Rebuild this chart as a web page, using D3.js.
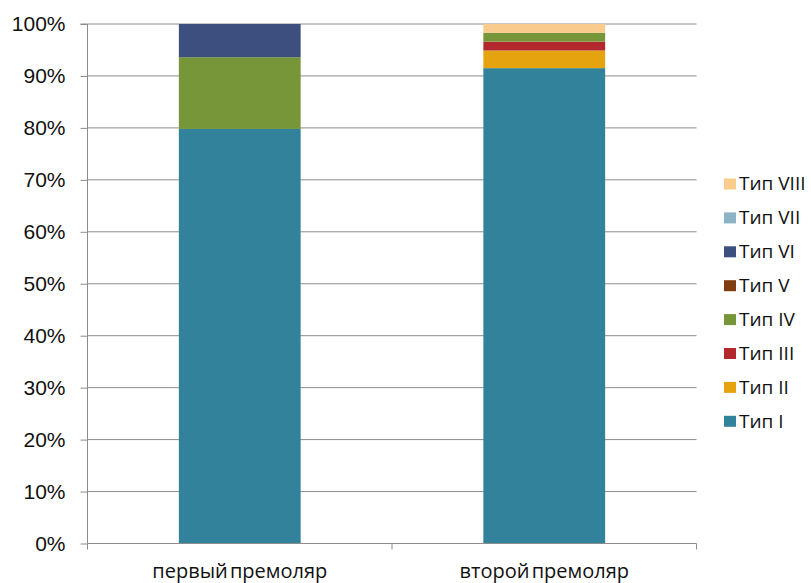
<!DOCTYPE html>
<html><head><meta charset="utf-8">
<script src="https://cdn.jsdelivr.net/npm/d3@7"></script>
<style>body{margin:0;background:#fff}svg{display:block}</style>
</head><body><svg id="c" width="811" height="583"></svg>
<script>
const categories = ["первый премоляр", "второй премоляр"];
const seriesNames = ["Тип I","Тип II","Тип III","Тип IV","Тип V","Тип VI","Тип VII","Тип VIII"];
// percent values per series, [first, second]
const tip1 = [79.8, 91.5];
const tip2 = [0, 3.4];
const tip3 = [0, 1.7];
const tip4 = [13.8, 1.7];
const tip5 = [0, 0];
const tip6 = [6.4, 0];
const tip7 = [0, 0];
const tip8 = [0, 1.7];
const yTicks = [0,10,20,30,40,50,60,70,80,90,100];
const colors = ["#31829A","#E6A310","#B3282D","#77963A","#7F3D0F","#3C4F7E","#8DB3C7","#F9CB8C"];

const seriesVals = [tip1,tip2,tip3,tip4,tip5,tip6,tip7,tip8];
const table = categories.map((c,i)=>{const o={cat:c}; seriesNames.forEach((s,j)=>o[s]=seriesVals[j][i]); return o;});
const stack = d3.stack().keys(seriesNames)(table);

const svg = d3.select("#c");
const L=87.5, R=696.5, T=24, B=543.5;
const x = d3.scaleBand().domain(categories).range([L,R]).paddingInner(0.6).paddingOuter(0.3);
const y = d3.scaleLinear().domain([0,100]).range([B,T]);

// gridlines
svg.append("g").selectAll("line").data(yTicks.filter(d=>d>0)).join("line")
  .attr("x1",L).attr("x2",R).attr("y1",d=>y(d)).attr("y2",d=>y(d))
  .attr("stroke","#8c8c8c").attr("stroke-width",1);

// bars
svg.append("g").selectAll("g").data(stack).join("g")
  .attr("fill",(d,i)=>colors[i])
  .selectAll("rect").data(d=>d).join("rect")
  .attr("x",d=>x(d.data.cat)).attr("width",x.bandwidth())
  .attr("y",d=>y(d[1])).attr("height",d=>y(d[0])-y(d[1]));

// y axis
const ya = svg.append("g").attr("transform",`translate(${L},0)`)
  .call(d3.axisLeft(y).tickValues(yTicks).tickFormat(d=>d+"%").tickSize(7).tickPadding(15));
ya.select(".domain").attr("stroke","#8c8c8c").attr("d",`M-7,${T}H0V${B}`);
ya.selectAll(".tick line").attr("stroke","#8c8c8c");
ya.selectAll("text").attr("font-family","'Liberation Sans', Arial, sans-serif").attr("font-size",21).attr("fill","#111");

// x axis
const xa = svg.append("g").attr("transform",`translate(0,${B})`)
  .call(d3.axisBottom(x).tickSize(0).tickPadding(20));
xa.select(".domain").attr("stroke","#8c8c8c").attr("d",`M${L},0H${R}`);
xa.selectAll("text").attr("font-family","'Open Sans', 'Noto Sans', sans-serif").attr("font-size",20).attr("fill","#111").attr("word-spacing","-3px");
// category boundary ticks
const bounds = [L, (L+R)/2, R];
xa.append("g").selectAll("line").data(bounds).join("line")
  .attr("x1",d=>d).attr("x2",d=>d).attr("y1",0).attr("y2",6).attr("stroke","#8c8c8c");

// legend
const leg = svg.append("g");
const items = seriesNames.map((s,i)=>({s,c:colors[i]})).reverse();
const li = leg.selectAll("g").data(items).join("g")
  .attr("transform",(d,i)=>`translate(724,${183.5 + i*33.9})`);
li.append("rect").attr("x",0).attr("y",-5).attr("width",12).attr("height",11).attr("fill",d=>d.c);
li.append("text").attr("x",15).attr("y",0).attr("dy","0.36em")
  .attr("font-family","'Open Sans', 'Noto Sans', sans-serif").attr("font-size",19).attr("fill","#111")
  .text(d=>d.s);
</script></body></html>
